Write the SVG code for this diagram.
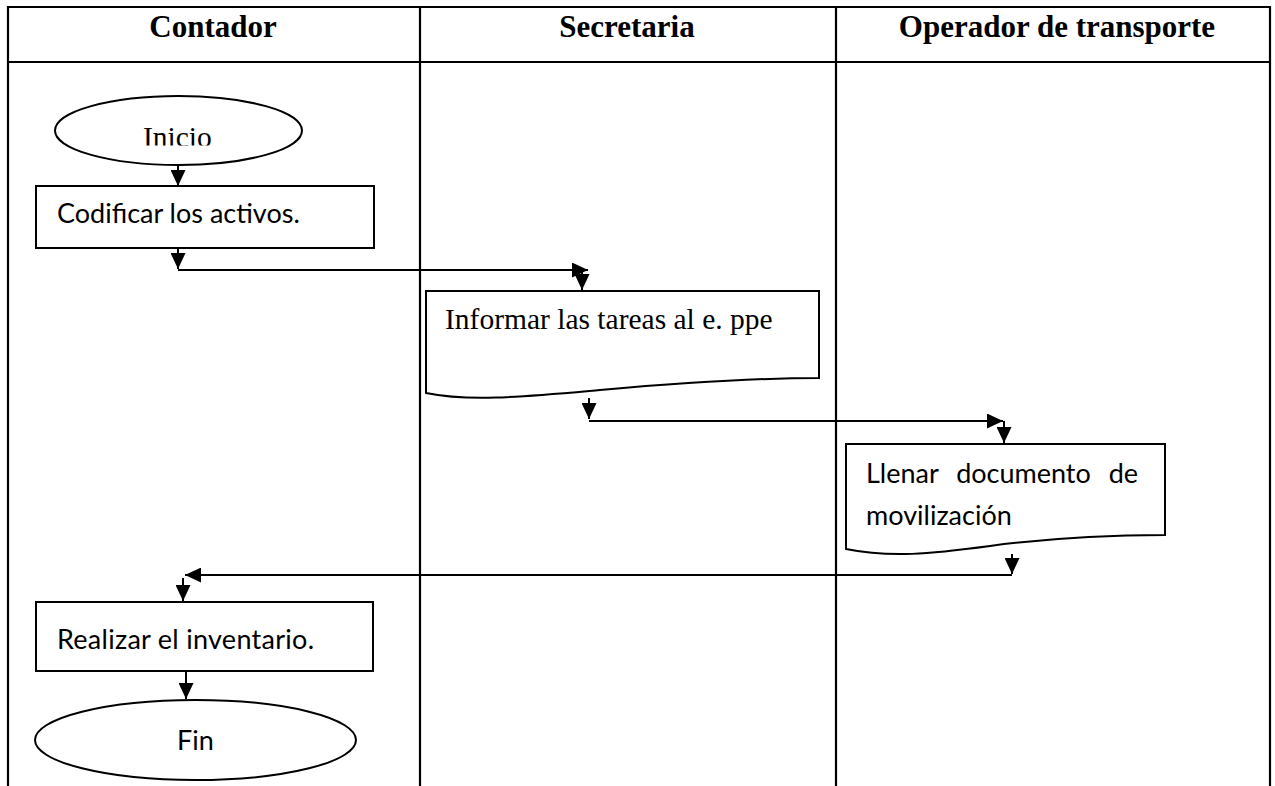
<svg xmlns="http://www.w3.org/2000/svg" width="1275" height="786" viewBox="0 0 1275 786">
<style>
.grid{stroke:#000;stroke-width:2.2;fill:none}
.shape{stroke:#000;stroke-width:2;fill:#fff}
.hdr{font-family:"Liberation Serif","Times New Roman",serif;font-weight:bold;font-size:31px;fill:#000;text-anchor:middle}
.ser{font-family:"Liberation Serif","Times New Roman",serif;font-size:29.5px;fill:#000}
.cal{font-family:Lato,"Liberation Sans",sans-serif;font-size:27px;fill:#000}
.conn line{stroke:#000;stroke-width:2}
</style>
<defs>
<marker id="ah" markerUnits="userSpaceOnUse" markerWidth="17" markerHeight="15" refX="16" refY="7.5" orient="auto">
<path d="M0,0 L16,7.5 L0,15 Z" fill="#000"/>
</marker>
<clipPath id="clipInicio"><rect x="100" y="100" width="200" height="45.5"/></clipPath>
</defs>
<rect width="1275" height="786" fill="#fff"/>
<g id="table">
<line class="grid" x1="7" y1="7" x2="1271" y2="7"/>
<line class="grid" x1="7" y1="62" x2="1271" y2="62"/>
<line class="grid" x1="8" y1="6" x2="8" y2="786"/>
<line class="grid" x1="420" y1="6" x2="420" y2="786"/>
<line class="grid" x1="836" y1="6" x2="836" y2="786"/>
<line class="grid" x1="1270" y1="6" x2="1270" y2="786"/>
<text class="hdr" x="213" y="37">Contador</text>
<text class="hdr" x="627" y="37">Secretaria</text>
<text class="hdr" x="1057" y="37">Operador de transporte</text>
</g>
<g id="inicio">
<ellipse class="shape" cx="178.5" cy="130.5" rx="123.5" ry="34.5"/>
<text class="ser" x="143" y="147" font-size="30" clip-path="url(#clipInicio)">Inicio</text>
</g>
<g id="codificar">
<rect class="shape" x="36" y="186" width="338" height="62"/>
<text class="cal" x="57" y="223">Codificar los activos.</text>
</g>
<g id="informar">
<path class="shape" d="M426,291 H819 V378 C760,378 690,382 600,390 C520,397 470,402 426,393 Z"/>
<text class="ser" x="445" y="329">Informar las tareas al e. ppe</text>
</g>
<g id="llenar">
<path class="shape" d="M846,444 H1165 V535 C1110,535 1050,538 990,546 C930,554 890,558 846,549 Z"/>
<text class="cal" x="866" y="483" word-spacing="11">Llenar documento de</text>
<text class="cal" x="866" y="525">movilización</text>
</g>
<g id="realizar">
<rect class="shape" x="36" y="602" width="337" height="69"/>
<text class="cal" x="57" y="649" textLength="257" lengthAdjust="spacing">Realizar el inventario.</text>
</g>
<g id="fin">
<ellipse class="shape" cx="195.5" cy="740" rx="160.5" ry="40"/>
<text class="cal" x="195.5" y="750" text-anchor="middle">Fin</text>
</g>
<g id="connectors" class="conn">
<line x1="178" y1="165" x2="178" y2="186" marker-end="url(#ah)"/>
<line x1="178" y1="248" x2="178" y2="269" marker-end="url(#ah)"/>
<line x1="178" y1="270" x2="588" y2="270" marker-end="url(#ah)"/>
<line x1="582" y1="270" x2="582" y2="290" marker-end="url(#ah)"/>
<line x1="589" y1="398" x2="589" y2="419" marker-end="url(#ah)"/>
<line x1="589" y1="421" x2="1003" y2="421" marker-end="url(#ah)"/>
<line x1="1004" y1="421" x2="1004" y2="443" marker-end="url(#ah)"/>
<line x1="1012" y1="554" x2="1012" y2="574" marker-end="url(#ah)"/>
<line x1="1012" y1="575" x2="185" y2="575" marker-end="url(#ah)"/>
<line x1="183" y1="578" x2="183" y2="601" marker-end="url(#ah)"/>
<line x1="186" y1="672" x2="186" y2="699" marker-end="url(#ah)"/>
</g>
</svg>
